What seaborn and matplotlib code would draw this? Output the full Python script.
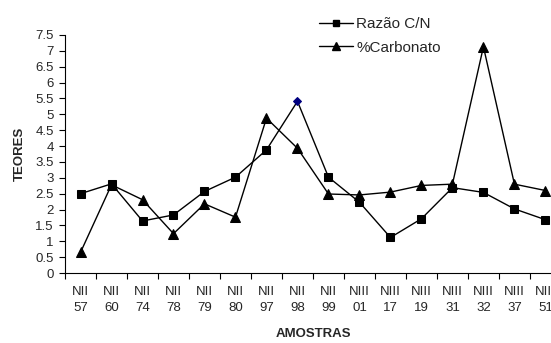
import matplotlib
matplotlib.use("Agg")
import matplotlib.pyplot as plt
import seaborn as sns
import numpy as np
from matplotlib.lines import Line2D

amostras = ["NII\n57", "NII\n60", "NII\n74", "NII\n78", "NII\n79", "NII\n80", "NII\n97",
            "NII\n98", "NII\n99", "NIII\n01", "NIII\n17", "NIII\n19", "NIII\n31", "NIII\n32",
            "NIII\n37", "NIII\n51"]
razao_cn = [2.50, 2.81, 1.64, 1.83, 2.57, 3.02, 3.88, 5.41, 3.02, 2.23, 1.12, 1.71, 2.69, 2.54, 2.02, 1.68]
carbonato = [0.65, 2.78, 2.31, 1.24, 2.18, 1.76, 4.88, 3.93, 2.49, 2.46, 2.55, 2.76, 2.80, 7.13, 2.80, 2.60]
yticks = [0, 0.5, 1, 1.5, 2, 2.5, 3, 3.5, 4, 4.5, 5, 5.5, 6, 6.5, 7, 7.5]
highlight = 7  # NII 98 point of Razão C/N drawn as blue diamond

sns.set_theme(style="white")
plt.rcParams['font.family'] = ['Liberation Sans', 'DejaVu Sans']

fig = plt.figure(figsize=(5.51, 3.43), dpi=100)
ax = fig.add_axes([0.118, 0.204, 0.900, 0.694])

x = np.arange(len(amostras))
others = [i for i in x if i != highlight]
sns.lineplot(x=x, y=razao_cn, ax=ax, color="black", linewidth=1.0, marker="s",
             markersize=5.5, markevery=others, markeredgecolor="black", markerfacecolor="black")
sns.lineplot(x=x[[highlight]], y=[razao_cn[highlight]], ax=ax, color="#000080", marker="D",
             markersize=4.5, linewidth=0, markeredgecolor="#000080")
sns.lineplot(x=x, y=carbonato, ax=ax, color="black", linewidth=1.0, marker="^",
             markersize=6.5, markeredgecolor="black", markerfacecolor="black")

ax.set_xlim(-0.5, len(amostras) - 0.5)
ax.set_ylim(0, 7.5)
ax.set_yticks(yticks)
ax.set_yticklabels([f"{v:g}" for v in yticks], fontsize=9.5)
ax.set_xticks(x)
ax.set_xticklabels(amostras, fontsize=9.5, linespacing=1.55)
ax.set_xticks(np.arange(-0.5, len(amostras), 1), minor=True)
ax.tick_params(axis="x", which="major", length=0, pad=9)
ax.tick_params(axis="x", which="minor", length=4, width=0.8, direction="out", color="black", bottom=True)
ax.tick_params(axis="y", length=4, width=0.8, direction="out", color="black", left=True, pad=4)

for s in ["top", "right"]:
    ax.spines[s].set_visible(False)
for s in ["left", "bottom"]:
    ax.spines[s].set_color("black")
    ax.spines[s].set_linewidth(0.8)

ax.set_xlabel("AMOSTRAS", fontsize=9.5, fontweight="bold", labelpad=10)
ax.set_ylabel("TEORES", fontsize=9.5, fontweight="bold", labelpad=7)

handles = [Line2D([], [], color="black", lw=1.0, marker="s", markersize=5),
           Line2D([], [], color="black", lw=1.0, marker="^", markersize=6)]
fig.legend(handles, ["Razão C/N", "%Carbonato"], loc="upper left",
           bbox_to_anchor=(0.5595, 0.982), frameon=False, fontsize=11,
           handlelength=2.2, handletextpad=0.25, labelspacing=0.65, borderaxespad=0.3)

fig.savefig("out.png", dpi=100, facecolor="white")
